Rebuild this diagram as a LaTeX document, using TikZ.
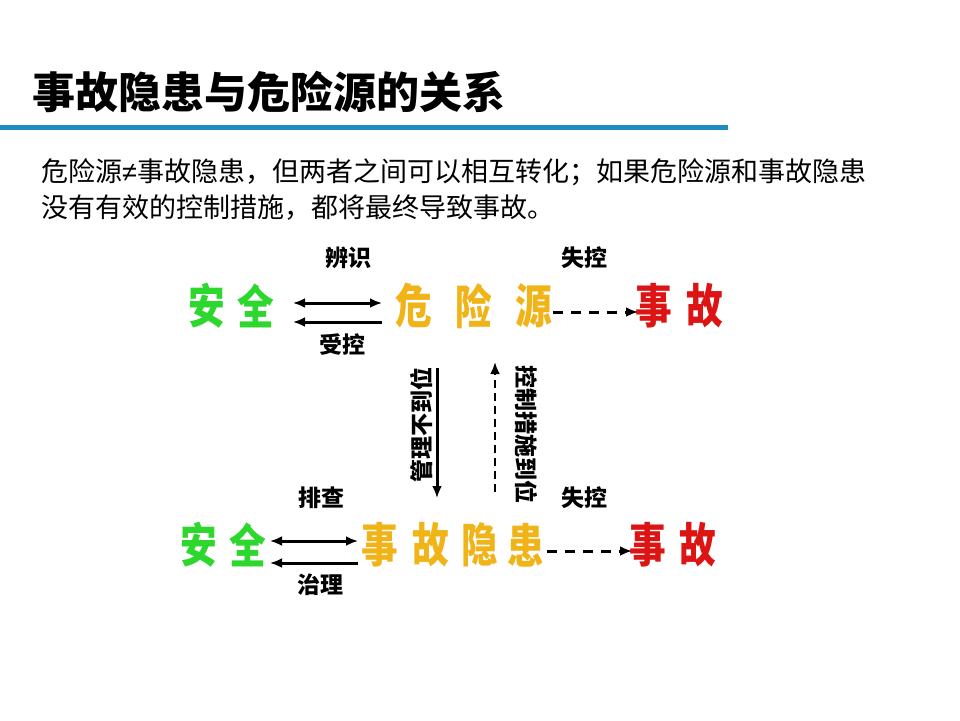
\documentclass[tikz,border=0pt]{standalone}
\usepackage{fontspec}
\usepackage{graphicx}
\usetikzlibrary{arrows.meta,calc}
\newfontfamily\cjk{Noto Sans CJK SC}
\newfontfamily\latinsans{Liberation Sans}
\newcommand{\narrowc}[1]{\scalebox{0.78}[1]{#1}}
\definecolor{safegreen}{RGB}{45,215,45}
\definecolor{hazorange}{RGB}{240,180,25}
\definecolor{accred}{RGB}{220,20,20}
\definecolor{barblue}{RGB}{30,140,195}
\tikzset{
  bigch/.style={inner sep=0pt, font=\cjk\bfseries\fontsize{47}{47}\selectfont},
  safe/.style={bigch, text=safegreen},
  hazard/.style={bigch, text=hazorange},
  accident/.style={bigch, text=accred},
  lbl/.style={inner sep=0pt, font=\cjk\bfseries\fontsize{23}{23}\selectfont},
  bodytext/.style={anchor=west, inner sep=0pt, font=\cjk\fontsize{27}{27}\selectfont},
  twoway/.style={line width=3pt, {Latex[length=12pt,width=10pt]}-{Latex[length=12pt,width=10pt]}},
  oneway/.style={line width=3pt, -{Latex[length=12pt,width=10pt]}},
  dashway/.style={oneway, dash pattern=on 10pt off 8pt},
  vdash/.style={oneway, line width=2.6pt, dash pattern=on 8pt off 5pt},
}
\begin{document}
\begin{tikzpicture}[x=1pt,y=1pt]
\useasboundingbox (0,0) rectangle (960,-720);
\fill[white] (0,0) rectangle (960,-720);
% title
\node[anchor=west, inner sep=0pt, font=\cjk\bfseries\fontsize{43}{43}\selectfont] (title) at (32,-92) {事故隐患与危险源的关系};
\draw[barblue, line width=5pt] (0,-127) -- (728,-127);
% body
\node[bodytext] (body1) at (41,-172) {危险源{\latinsans ≠}事故隐患，但两者之间可以相互转化；如果危险源和事故隐患};
\node[bodytext] (body2) at (41,-208) {没有有效的控制措施，都将最终导致事故。};
% row 1
\node[safe] (r1s1) at (207,-306) {\narrowc{安}};
\node[safe] (r1s2) at (256,-306) {\narrowc{全}};
\node[hazard] (r1h1) at (414,-306) {\narrowc{危}};
\node[hazard] (r1h2) at (474,-306) {\narrowc{险}};
\node[hazard] (r1h3) at (534,-306) {\narrowc{源}};
\node[accident] (r1a1) at (654,-306) {\narrowc{事}};
\node[accident] (r1a2) at (705,-306) {\narrowc{故}};
% row 2
\node[safe] (r2s1) at (199,-545) {\narrowc{安}};
\node[safe] (r2s2) at (248,-545) {\narrowc{全}};
\node[hazard] (r2h1) at (380,-545) {\narrowc{事}};
\node[hazard] (r2h2) at (431,-545) {\narrowc{故}};
\node[hazard] (r2h3) at (480,-545) {\narrowc{隐}};
\node[hazard] (r2h4) at (526,-545) {\narrowc{患}};
\node[accident] (r2a1) at (648,-545) {\narrowc{事}};
\node[accident] (r2a2) at (698,-545) {\narrowc{故}};
% labels
\node[lbl] (l1) at (348,-258) {辨识};
\node[lbl] (l2) at (342,-345) {受控};
\node[lbl] (l3) at (584,-258) {失控};
\node[lbl] (l4) at (321,-498) {排查};
\node[lbl] (l5) at (320,-585) {治理};
\node[lbl] (l6) at (584,-498) {失控};
\node[lbl, rotate=90] (v1) at (422,-425) {管理不到位};
\node[lbl, rotate=-90] (v2) at (526,-434) {控制措施到位};
% row 1 connectors
\draw[twoway] ($(r1s2.center)+(37,3)$) -- ($(r1h1.center)+(-32,3)$);
\draw[oneway] ($(r1h1.center)+(-32,-16)$) -- ($(r1s2.center)+(37,-16)$);
\draw[dashway] ($(r1h3.center)+(19,-6)$) -- ($(r1a1.center)+(-16,-6)$);
% row 2 connectors
\draw[twoway] ($(r2s2.center)+(22,4)$) -- ($(r2h1.center)+(-22,4)$);
\draw[oneway] ($(r2h1.center)+(-22,-18)$) -- ($(r2s2.center)+(22,-18)$);
\draw[dashway] ($(r2h4.center)+(21,-6)$) -- ($(r2a1.center)+(-16,-6)$);
% vertical connectors
\draw[oneway] ($(r1h2.center)+(-37,-62)$) -- ($(r2h2.center)+(6,47)$);
\draw[vdash] ($(r2h3.center)+(15,53)$) -- ($(r1h3.center)+(-39,-56)$);
\end{tikzpicture}
\end{document}
